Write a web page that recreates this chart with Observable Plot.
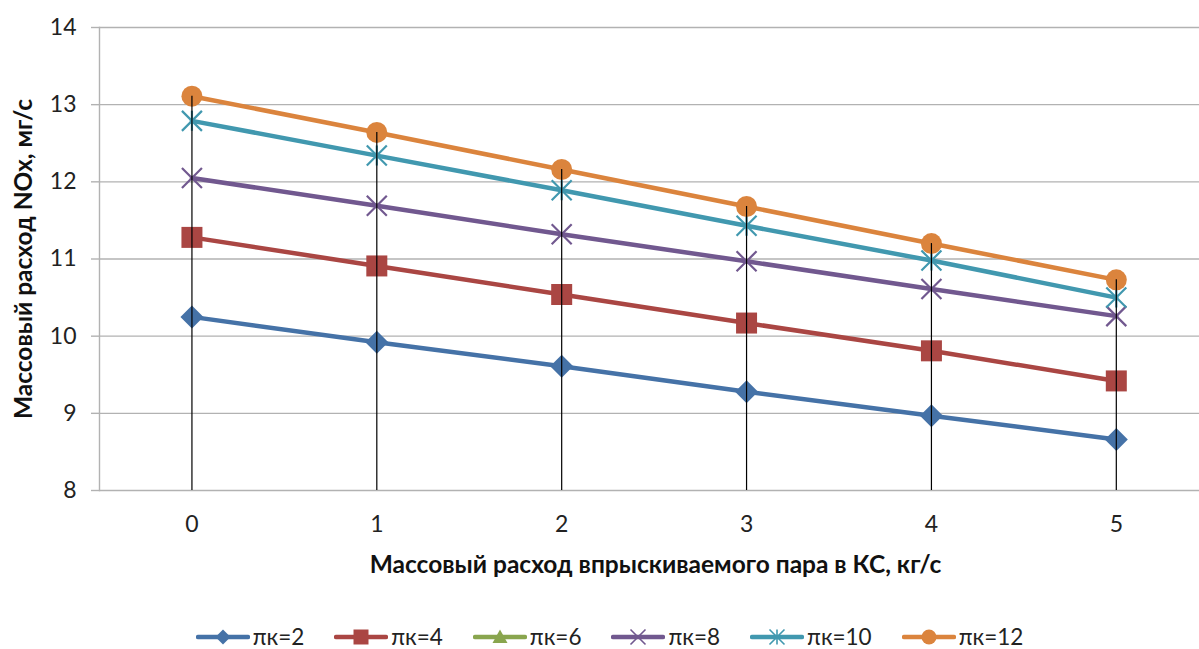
<!DOCTYPE html>
<html>
<head>
<meta charset="utf-8">
<script src="https://cdn.jsdelivr.net/npm/d3@7"></script>
<script src="https://cdn.jsdelivr.net/npm/@observablehq/plot@0.6"></script>
<style>
  html, body { margin: 0; padding: 0; background: #fff; overflow: hidden; }
  #chart { position: relative; width: 1199px; height: 649px; font-family: Lato, "Open Sans", sans-serif; }
  #legend { display: flex; justify-content: center; align-items: center; height: 49px;
            padding-top: 24px; padding-left: 20px; box-sizing: border-box;
            font-size: 22.5px; color: #222; }
  .item { display: flex; align-items: center; margin: 0 15px; }
  .item svg { margin-right: 3px; }
</style>
</head>
<body>
<div id="chart"></div>
<script>
// Steam injection mass flow into the combustor, kg/s
const steam = [0, 1, 2, 3, 4, 5];
// NOx mass flow, mg/s, for each compressor pressure ratio
const pk2  = [10.25, 9.92, 9.61, 9.28, 8.97, 8.66];
const pk4  = [11.28, 10.91, 10.54, 10.17, 9.81, 9.42];
const pk6  = [];   // listed in the legend, no points plotted
const pk8  = [12.05, 11.69, 11.32, 10.97, 10.61, 10.26];
const pk10 = [12.79, 12.34, 11.89, 11.43, 10.98, 10.50];
const pk12 = [13.11, 12.64, 12.16, 11.68, 11.20, 10.73];
const seriesNames = ["πк=2", "πк=4", "πк=6", "πк=8", "πк=10", "πк=12"];
const yTicks = [8, 9, 10, 11, 12, 13, 14];

const xTitle = "Массовый расход впрыскиваемого пара в КС, кг/с";
const yTitle = "Массовый расход NOx, мг/с";

// Marker shapes; size is π·r², so r = sqrt(size/π) is the half-extent.
const half = size => Math.sqrt(size / Math.PI);
const diamond = {draw(c, s) { const r = half(s); c.moveTo(0, -r); c.lineTo(r, 0); c.lineTo(0, r); c.lineTo(-r, 0); c.closePath(); }};
const square  = {draw(c, s) { const r = half(s); c.moveTo(-r, -r); c.lineTo(r, -r); c.lineTo(r, r); c.lineTo(-r, r); c.closePath(); }};
const triangle = {draw(c, s) { const r = half(s); c.moveTo(0, -r); c.lineTo(r, r * 0.8); c.lineTo(-r, r * 0.8); c.closePath(); }};
const cross   = {draw(c, s) { const r = half(s); c.moveTo(-r, -r); c.lineTo(r, r); c.moveTo(-r, r); c.lineTo(r, -r); }};
const star    = {draw(c, s) { const r = half(s); c.moveTo(-r, -r); c.lineTo(r, r); c.moveTo(-r, r); c.lineTo(r, -r); c.moveTo(0, -r); c.lineTo(0, r); }};
const circle  = {draw(c, s) { const r = half(s); c.moveTo(r, 0); c.arc(0, 0, r, 0, 2 * Math.PI); }};

const styles = [
  {values: pk2,  color: "#4572A7", shape: diamond,  filled: true,  r: 11.5},
  {values: pk4,  color: "#AA4643", shape: square,   filled: true,  r: 10.5},
  {values: pk6,  color: "#89A54E", shape: triangle, filled: true,  r: 10},
  {values: pk8,  color: "#71588F", shape: cross,    filled: false, r: 10},
  {values: pk10, color: "#4198AF", shape: star,     filled: false, r: 10},
  {values: pk12, color: "#DB843D", shape: circle,   filled: true,  r: 10.5}
].map((s, k) => ({...s, name: seriesNames[k]}));

const rowsOf = s => s.values.map((v, i) => ({steam: steam[i], nox: v}));

// Drop lines run from the axis up to the highest value at each steam flow
const drops = steam.map((x, i) => ({
  steam: x,
  top: d3.max(styles, s => s.values[i])
}));

const font = 'Lato, "Open Sans", sans-serif';

const marks = [
  Plot.gridY(yTicks, {stroke: "#b2b2b2", strokeOpacity: 1, strokeWidth: 1.4}),
  Plot.frame({anchor: "left", stroke: "#b2b2b2", strokeWidth: 1.4}),
  Plot.axisY(yTicks, {tickSize: 8, tickPadding: 15, fontSize: 23, stroke: "#b2b2b2", strokeWidth: 1.4,
    color: "#222", label: null, tickFormat: d => String(d)}),
  Plot.axisX(steam, {tickSize: 0, tickPadding: 25, fontSize: 23, color: "#222", label: null, tickFormat: d => String(d)})
];

for (const s of styles) {
  if (!s.values.length) continue;
  const data = rowsOf(s);
  marks.push(Plot.line(data, {x: "steam", y: "nox", stroke: s.color, strokeWidth: 4.5, strokeLinejoin: "round", strokeLinecap: "round"}));
  marks.push(Plot.dot(data, s.filled
    ? {x: "steam", y: "nox", symbol: s.shape, r: s.r, fill: s.color, stroke: "none"}
    : {x: "steam", y: "nox", symbol: s.shape, r: s.r, fill: "none", stroke: s.color, strokeWidth: 2.2}));
}

marks.push(Plot.ruleX(drops, {x: "steam", y1: 8, y2: "top", stroke: "#000", strokeWidth: 1.2}));
marks.push(Plot.text([xTitle], {frameAnchor: "bottom", dy: 82, dx: 6, fontSize: 24.5, fontWeight: "bold", fill: "#111"}));
marks.push(Plot.text([yTitle], {frameAnchor: "left", dx: -75, rotate: -90, textAnchor: "middle", fontSize: 24.5, fontWeight: "bold", fill: "#111"}));

const chart = Plot.plot({
  width: 1199,
  height: 600,
  marginLeft: 99,
  marginRight: 0,
  marginTop: 27,
  marginBottom: 110,
  style: {fontFamily: font, background: "#fff"},
  x: {type: "linear", domain: [-0.5, 5.45]},
  y: {domain: [8, 14]},
  marks
});

const root = document.getElementById("chart");
root.appendChild(chart);

// Legend below the plot
const legend = document.createElement("div");
legend.id = "legend";
for (const s of styles) {
  const item = document.createElement("div");
  item.className = "item";
  const svg = d3.create("svg").attr("width", 54).attr("height", 22);
  svg.append("line").attr("x1", 2).attr("x2", 52).attr("y1", 11).attr("y2", 11)
    .attr("stroke", s.color).attr("stroke-width", 4.5).attr("stroke-linecap", "round");
  const p = d3.symbol(s.shape, Math.PI * 7.5 * 7.5)();
  svg.append("path").attr("d", p).attr("transform", "translate(27,11)")
    .attr("fill", s.filled ? s.color : "none")
    .attr("stroke", s.filled ? "none" : s.color).attr("stroke-width", 1.6);
  item.appendChild(svg.node());
  const label = document.createElement("span");
  label.textContent = s.name;
  item.appendChild(label);
  legend.appendChild(item);
}
root.appendChild(legend);
</script>
</body>
</html>
